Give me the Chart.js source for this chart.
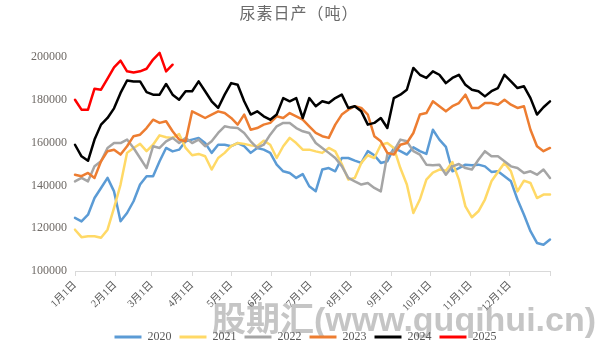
<!DOCTYPE html>
<html>
<head>
<meta charset="utf-8">
<script src="https://cdn.jsdelivr.net/npm/chart.js@4/dist/chart.umd.min.js"></script>
<style>
  html, body { margin: 0; padding: 0; background: #fff; }
  #wrap { width: 611px; height: 346px; }
</style>
</head>
<body>
<div id="wrap"><canvas id="c" width="611" height="346"></canvas></div>
<script>
// Sample days (days after 1 Jan), one reading every five days
const days = [0,5,10,15,20,25,30,35,40,45,50,55,60,65,70,75,80,85,90,95,100,105,110,115,120,125,130,135,140,145,150,155,160,165,170,175,180,185,190,195,200,205,210,215,220,225,230,235,240,245,250,255,260,265,270,275,280,285,290,295,300,305,310,315,320,325,330,335,340,345,350,355,360,365];

// Month starts used as axis ticks, plus year end
const tickDays = [0,31,59,90,120,151,181,212,243,273,304,334,365];
const tickLabels = ['1月1日','2月1日','3月1日','4月1日','5月1日','6月1日','7月1日','8月1日','9月1日','10月1日','11月1日','12月1日',''];
const yTicks = [100000,120000,140000,160000,180000,200000];

// Daily urea output (tons)
const y2020 = [124800,123200,126300,134100,138800,143500,137200,123200,127100,132600,140400,144300,144300,151300,157500,155900,156700,160600,
  161400,162200,159800,155200,159000,159000,158300,159800,158300,155200,157500,156700,155200,149700,146600,145800,143500,145300,139600,
  137300,147400,148100,146600,152800,152800,151600,150500,156000,154100,150500,151300,157500,156000,154400,157800,156000,154700,166000,
  161400,158000,146600,148100,149700,149400,149700,148900,146300,146600,144300,141900,133400,126300,118600,113100,112300,114700];
const y2021 = [119300,115800,116200,116200,115500,119300,129500,140400,155200,157500,159400,156000,159000,163400,162500,162200,164000,157500,
  154100,154700,153600,147400,152800,155200,158300,159800,159400,158700,158300,160900,159000,152800,158300,162200,159800,156700,156700,
  155900,155200,157500,155900,150000,142700,143500,150500,154100,152800,159000,159800,157500,148100,140400,127100,133400,142700,146000,
  147400,146900,150900,142700,130200,125100,127900,133400,141900,146300,150500,146600,137200,142200,141100,134100,135700,135700];
const y2022 = [141900,143500,141900,148900,151300,157500,159800,159800,161400,157500,152800,148100,158300,157500,160600,162200,159800,162200,
  159800,161400,158300,160600,164500,167600,167000,166800,164500,160600,157500,159000,163700,167600,169200,169200,166800,165300,164500,
  159800,157500,155200,152800,149000,143500,141900,140400,141100,138800,137200,154400,156000,161400,160600,156000,154400,149700,149400,
  149700,145000,148900,150000,148100,147400,152000,156000,153600,153600,151300,148900,148100,145800,146600,145000,147400,143500];
const y2023 = [145000,144300,145800,143500,151300,156000,156700,154400,158300,163000,163700,166800,170700,169200,170000,165300,161400,160600,
  174600,173100,171500,173100,174600,173800,171500,168400,173100,166000,166800,168400,169200,172300,171500,173800,172300,170700,167600,
  164500,163000,162200,168400,173100,175400,177000,176200,173100,163000,160600,155200,154400,159000,159800,164500,173100,173800,179300,
  177000,174600,177000,178500,182400,176200,176200,178500,178500,177700,180000,177700,176200,177000,166000,158300,156000,157500];
const y2024 = [159000,153600,151500,161400,168400,171500,176000,183200,189000,188600,188600,183600,182400,182400,187400,182400,180000,184000,
  184000,188600,184000,179300,176200,182400,187800,187000,179300,173100,174600,172300,170700,173100,180800,179300,180800,171500,180800,
  177000,179300,178500,180800,182400,176200,177000,174600,168400,169200,171500,166800,180800,182400,184700,194900,191700,190200,193300,
  191700,187800,190200,191700,187000,184700,184000,181600,184000,185500,191700,188600,185500,186300,180800,173100,176500,179300];
const y2025 = [180000,175400,175400,185200,184700,189900,195200,198300,193300,192800,193300,194500,198800,201900,193300,196400];

const seriesNames = ['2020','2021','2022','2023','2024','2025'];
const seriesValues = [y2020, y2021, y2022, y2023, y2024, y2025];
const seriesColors = ['#5B9BD5','#FFD966','#A5A5A5','#ED7D31','#000000','#FF0000'];

const datasets = seriesNames.map((name, i) => ({
  label: name,
  data: seriesValues[i].map((v, j) => ({ x: days[j], y: v })),
  borderColor: seriesColors[i],
  backgroundColor: seriesColors[i],
  borderWidth: 2.5,
  pointRadius: 0,
  tension: 0,
  fill: false,
  clip: false,
  borderJoinStyle: 'round',
  borderCapStyle: 'round',
  order: seriesNames.length - i
}));

const serif = '"Liberation Serif", "Noto Sans CJK SC", serif';

const backdrop = {
  id: 'backdrop',
  beforeDraw(chart) {
    const ctx = chart.ctx;
    ctx.save();
    ctx.fillStyle = '#ffffff';
    ctx.fillRect(0, 0, chart.width, chart.height);
    ctx.font = 'bold 34px "Liberation Sans", "Noto Sans CJK SC", sans-serif';
    ctx.fillStyle = 'rgba(150,150,150,0.55)';
    ctx.textBaseline = 'alphabetic';
    ctx.textAlign = 'left';
    ctx.fillText('股期汇(www.guqihui.cn)', 212, 331);
    ctx.restore();
  },
  afterDraw(chart) {
    const ctx = chart.ctx;
    ctx.save();
    ctx.font = '16px "Noto Sans CJK SC", sans-serif';
    ctx.fillStyle = '#6b6b6b';
    ctx.textAlign = 'center';
    ctx.textBaseline = 'middle';
    try { ctx.letterSpacing = '1px'; } catch (e) {}
    ctx.fillText('尿素日产（吨）', 299, 13);
    ctx.restore();
  }
};

new Chart(document.getElementById('c'), {
  type: 'line',
  data: { datasets },
  plugins: [backdrop],
  options: {
    responsive: false,
    animation: false,
    devicePixelRatio: 1,
    layout: { padding: { top: 57, right: 0, left: 0, bottom: -7 } },
    plugins: {
      title: { display: false },
      tooltip: { enabled: false },
      legend: {
        position: 'bottom',
        labels: {
          boxWidth: 27,
          boxHeight: 3,
          padding: 8,
          color: '#595959',
          font: { family: serif, size: 12 },
          generateLabels(chart) {
            const items = Chart.defaults.plugins.legend.labels.generateLabels(chart);
            items.forEach(it => { it.lineWidth = 0; it.fillStyle = it.strokeStyle; });
            return items.sort((a, b) => a.datasetIndex - b.datasetIndex);
          }
        }
      }
    },
    scales: {
      x: {
        type: 'linear',
        min: 0,
        max: 365,
        afterBuildTicks(scale) { scale.ticks = tickDays.map(v => ({ value: v })); },
        afterFit(scale) { scale.height = 52; },
        grid: { display: true, drawOnChartArea: false, drawTicks: true, tickLength: 5, color: '#d9d9d9' },
        border: { display: true, color: '#d9d9d9' },
        ticks: {
          autoSkip: false,
          maxRotation: 45,
          minRotation: 45,
          padding: 3,
          color: '#595959',
          font: { family: serif, size: 10.5 },
          callback(v) { const k = tickDays.indexOf(v); return k >= 0 ? tickLabels[k] : ''; }
        }
      },
      y: {
        min: 100000,
        max: 200000,
        afterBuildTicks(scale) { scale.ticks = yTicks.map(v => ({ value: v })); },
        afterFit(scale) { scale.width = 75; },
        grid: { display: false, drawTicks: false },
        border: { display: false },
        ticks: {
          padding: 8,
          color: '#6f6a66',
          font: { family: serif, size: 12 },
          callback(v) { return String(v); }
        }
      },
      // empty right-hand margin so the plot ends where the date axis ends
      gutter: {
        position: 'right',
        display: true,
        afterFit(scale) { scale.width = 61; },
        grid: { display: false, drawTicks: false },
        border: { display: false },
        ticks: { display: false }
      }
    }
  }
});
</script>
</body>
</html>
